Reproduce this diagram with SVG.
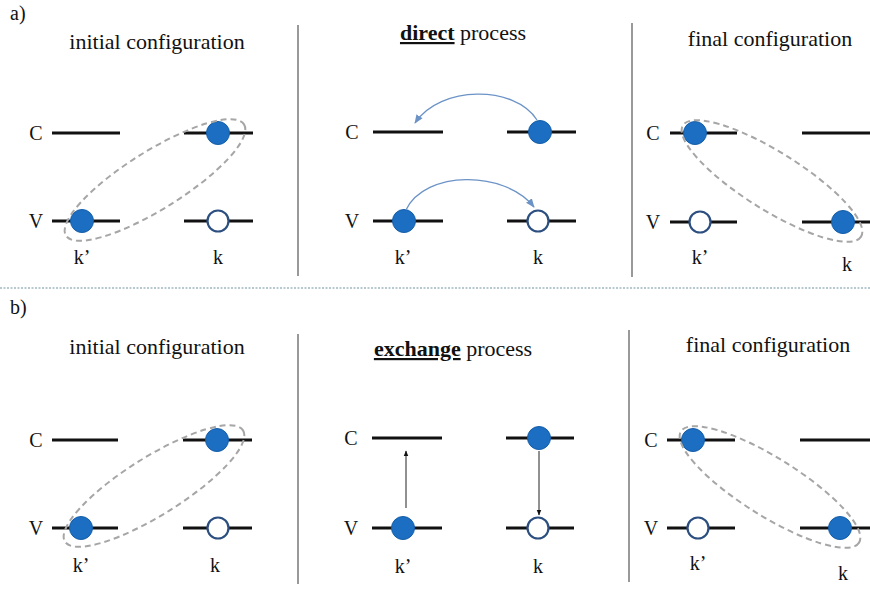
<svg xmlns="http://www.w3.org/2000/svg" width="870" height="590" viewBox="0 0 870 590">
<style>
text{fill:#111;}
.title{font-size:22px;text-anchor:middle;}
.lbl{font-size:20px;text-anchor:middle;}
.tag{font-size:20px;}
.lvl{stroke:#111;stroke-width:3;fill:none;}
.full{fill:#1b6ec2;stroke:#165ea8;stroke-width:1;}
.hole{fill:#fff;stroke:#2c4f80;stroke-width:2.2;}
.ell{fill:none;stroke:#a6a6a6;stroke-width:2;stroke-dasharray:6 4;}
.div{stroke:#777;stroke-width:1.5;}
.sep{stroke:#9fb8c2;stroke-width:1.5;stroke-dasharray:2 1.5;}
.barc{fill:none;stroke:#6c93c6;stroke-width:1.3;}
.karr{fill:none;stroke:#222;stroke-width:1;}
</style>
<defs>
<marker id="ab" viewBox="0 0 10 10" refX="9" refY="5" markerWidth="7" markerHeight="7" orient="auto"><path d="M0,1 L10,5 L0,9 z" fill="#6c93c6"/></marker>
<marker id="ak" viewBox="0 0 10 10" refX="9" refY="5" markerWidth="6" markerHeight="6" orient="auto"><path d="M0,1 L10,5 L0,9 z" fill="#111"/></marker>
</defs>
<rect width="870" height="590" fill="#fff"/>

<g id="frame">
<text class="tag" font-family="Liberation Serif" x="10" y="20">a)</text>
<text class="tag" font-family="Liberation Serif" x="10" y="314">b)</text>
<line class="sep" x1="0" y1="288" x2="870" y2="288"/>
<line class="div" x1="298" y1="25" x2="298" y2="276"/>
<line class="div" x1="632" y1="23" x2="632" y2="277"/>
<line class="div" x1="298" y1="334" x2="298" y2="584"/>
<line class="div" x1="629" y1="330" x2="629" y2="582"/>
</g>

<g id="a-initial">
<text class="title" font-family="Liberation Serif" x="157" y="49">initial configuration</text>
<text class="lbl" font-family="Liberation Serif" x="36" y="140">C</text>
<text class="lbl" font-family="Liberation Serif" x="36" y="228">V</text>
<line class="lvl" x1="52" y1="133" x2="120" y2="133"/>
<line class="lvl" x1="184" y1="133" x2="253" y2="133"/>
<line class="lvl" x1="52" y1="221" x2="120" y2="221"/>
<line class="lvl" x1="184" y1="221" x2="253" y2="221"/>
<circle class="full" cx="218" cy="133" r="11.5"/>
<circle class="full" cx="82" cy="221" r="11.5"/>
<circle class="hole" cx="218" cy="221" r="10.5"/>
<ellipse class="ell" cx="155" cy="180" rx="105" ry="29" transform="rotate(-32 155 180)"/>
<text class="lbl" font-family="Liberation Serif" x="82" y="264">k’</text>
<text class="lbl" font-family="Liberation Serif" x="218" y="264">k</text>
</g>

<g id="a-direct">
<text class="title" font-family="Liberation Serif" x="463" y="40"><tspan font-weight="bold" text-decoration="underline">direct</tspan> process</text>
<text class="lbl" font-family="Liberation Serif" x="352" y="139">C</text>
<text class="lbl" font-family="Liberation Serif" x="352" y="228">V</text>
<line class="lvl" x1="373" y1="132" x2="443" y2="132"/>
<line class="lvl" x1="507" y1="132" x2="576" y2="132"/>
<line class="lvl" x1="373" y1="221" x2="443" y2="221"/>
<line class="lvl" x1="507" y1="221" x2="576" y2="221"/>
<circle class="full" cx="540" cy="132" r="11.5"/>
<circle class="full" cx="404" cy="221" r="11.5"/>
<circle class="hole" cx="538" cy="221" r="10.5"/>
<text class="lbl" font-family="Liberation Serif" x="403" y="264">k’</text>
<text class="lbl" font-family="Liberation Serif" x="538" y="264">k</text>
</g>

<g id="a-final">
<text class="title" font-family="Liberation Serif" x="770" y="46">final configuration</text>
<text class="lbl" font-family="Liberation Serif" x="653" y="140">C</text>
<text class="lbl" font-family="Liberation Serif" x="653" y="229">V</text>
<line class="lvl" x1="670" y1="133" x2="737" y2="133"/>
<line class="lvl" x1="802" y1="133" x2="870" y2="133"/>
<line class="lvl" x1="670" y1="222" x2="737" y2="222"/>
<line class="lvl" x1="802" y1="222" x2="870" y2="222"/>
<circle class="full" cx="695" cy="133" r="11.5"/>
<circle class="hole" cx="700" cy="222" r="10.5"/>
<circle class="full" cx="843" cy="222" r="11.5"/>
<ellipse class="ell" cx="772" cy="181" rx="105" ry="29" transform="rotate(32 772 181)"/>
<text class="lbl" font-family="Liberation Serif" x="700" y="264">k’</text>
<text class="lbl" font-family="Liberation Serif" x="847" y="271">k</text>
</g>

<g id="b-initial">
<text class="title" font-family="Liberation Serif" x="157" y="354">initial configuration</text>
<text class="lbl" font-family="Liberation Serif" x="36" y="447">C</text>
<text class="lbl" font-family="Liberation Serif" x="36" y="535">V</text>
<line class="lvl" x1="52" y1="440" x2="118" y2="440"/>
<line class="lvl" x1="183" y1="440" x2="252" y2="440"/>
<line class="lvl" x1="52" y1="528" x2="118" y2="528"/>
<line class="lvl" x1="183" y1="528" x2="252" y2="528"/>
<circle class="full" cx="217" cy="440" r="11.5"/>
<circle class="full" cx="81" cy="528" r="11.5"/>
<circle class="hole" cx="218" cy="528" r="10.5"/>
<ellipse class="ell" cx="154" cy="486" rx="105" ry="29" transform="rotate(-32 154 486)"/>
<text class="lbl" font-family="Liberation Serif" x="81" y="572">k’</text>
<text class="lbl" font-family="Liberation Serif" x="215" y="572">k</text>
</g>

<g id="b-exchange">
<text class="title" font-family="Liberation Serif" x="453" y="356"><tspan font-weight="bold" text-decoration="underline">exchange</tspan> process</text>
<text class="lbl" font-family="Liberation Serif" x="351" y="445">C</text>
<text class="lbl" font-family="Liberation Serif" x="351" y="535">V</text>
<line class="lvl" x1="372" y1="438" x2="442" y2="438"/>
<line class="lvl" x1="506" y1="438" x2="574" y2="438"/>
<line class="lvl" x1="372" y1="528" x2="442" y2="528"/>
<line class="lvl" x1="506" y1="528" x2="574" y2="528"/>
<circle class="full" cx="539" cy="438" r="11.5"/>
<circle class="full" cx="403" cy="528" r="11.5"/>
<circle class="hole" cx="538" cy="528" r="10.5"/>
<text class="lbl" font-family="Liberation Serif" x="403" y="573">k’</text>
<text class="lbl" font-family="Liberation Serif" x="538" y="573">k</text>
</g>

<g id="b-final">
<text class="title" font-family="Liberation Serif" x="768" y="352">final configuration</text>
<text class="lbl" font-family="Liberation Serif" x="651" y="447">C</text>
<text class="lbl" font-family="Liberation Serif" x="651" y="535">V</text>
<line class="lvl" x1="667" y1="440" x2="735" y2="440"/>
<line class="lvl" x1="800" y1="440" x2="870" y2="440"/>
<line class="lvl" x1="667" y1="528" x2="735" y2="528"/>
<line class="lvl" x1="800" y1="528" x2="870" y2="528"/>
<circle class="full" cx="693" cy="440" r="11.5"/>
<circle class="hole" cx="698" cy="528" r="10.5"/>
<circle class="full" cx="840" cy="528" r="11.5"/>
<ellipse class="ell" cx="770" cy="487" rx="105" ry="29" transform="rotate(32 770 487)"/>
<text class="lbl" font-family="Liberation Serif" x="698" y="570">k’</text>
<text class="lbl" font-family="Liberation Serif" x="843" y="580">k</text>
</g>

<g id="connectors">
<path class="barc" d="M537,120 C515,85 440,85 415,123" marker-end="url(#ab)"/>
<path class="barc" d="M406,210 C425,170 505,170 534,207" marker-end="url(#ab)"/>
<line class="karr" x1="406" y1="508" x2="406" y2="451" marker-end="url(#ak)"/>
<line class="karr" x1="539" y1="451" x2="539" y2="515" marker-end="url(#ak)"/>
</g>
</svg>
